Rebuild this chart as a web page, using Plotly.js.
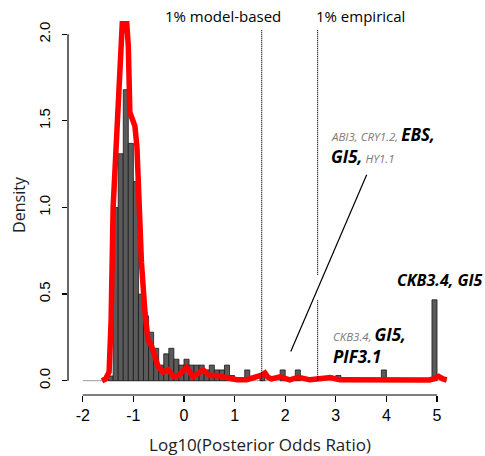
<!DOCTYPE html>
<html>
<head>
<meta charset="utf-8">
<script src="https://cdn.plot.ly/plotly-3.0.1.min.js"></script>
<style>html,body{margin:0;padding:0;background:#fff;}#chart{width:485px;height:456px;}</style>
</head>
<body>
<div id="chart"></div>
<script>
// Histogram bins (left edges, width 0.1) and densities
const binStarts = [-1.5,-1.4,-1.3,-1.2,-1.1,-1.0,-0.9,-0.8,-0.7,-0.6,-0.5,-0.4,-0.3,-0.2,-0.1,0.0,0.1,0.2,0.3,0.4,0.5,0.6,0.7,0.8,0.9,1.2,1.5,1.9,2.2,3.0,3.9,4.9];
const densities = [0.027,1.0,1.31,1.68,1.37,1.15,0.5,0.374,0.28,0.187,0.09,0.155,0.187,0.124,0.09,0.124,0.09,0.09,0.09,0.062,0.09,0.062,0.062,0.09,0.03,0.062,0.03,0.062,0.062,0.03,0.062,0.467];
const binWidth = 0.1;

// Kernel density curve
const kdeX = [-1.62,-1.55,-1.48,-1.44,-1.40,-1.36,-1.30,-1.25,-1.22,-1.13,-1.10,-1.07,-1.02,-0.97,-0.93,-0.90,-0.84,-0.77,-0.71,-0.64,-0.57,-0.51,-0.41,-0.31,-0.21,-0.11,0.05,0.18,0.38,0.51,0.64,0.78,0.90,1.04,1.24,1.44,1.52,1.60,1.66,1.73,1.90,2.09,2.26,2.49,2.69,2.89,3.08,3.5,4.0,4.5,4.85,4.93,5.03,5.12,5.19];
const kdeY = [0.0,0.01,0.05,0.35,1.0,1.25,1.62,1.95,2.06,2.06,1.93,1.55,1.51,1.47,1.35,1.10,0.68,0.39,0.235,0.20,0.12,0.08,0.05,0.062,0.025,0.03,0.077,0.023,0.062,0.03,0.03,0.02,0.018,0.006,0.006,0.02,0.03,0.045,0.02,0.01,0.022,0.005,0.02,0.005,0.015,0.018,0.005,0.004,0.004,0.004,0.004,0.01,0.025,0.01,0.004];

// Thresholds
const thresholdX = [1.535, 2.64];
const thresholdLabels = ["1% model-based", "1% empirical"];

// Axis ticks
const xTicks = [-2,-1,0,1,2,3,4,5];
const yTicks = [0,0.5,1.0,1.5,2.0];
const yTickText = ["0.0","0.5","1.0","1.5","2.0"];

const binCenters = binStarts.map(b => +(b + binWidth/2).toFixed(3));

const traces = [
  {
    type: 'bar', x: binCenters, y: densities, width: binWidth,
    marker: {color: '#5a5a5a', line: {color: '#1a1a1a', width: 0.8}},
    hoverinfo: 'skip', showlegend: false
  },
  {
    type: 'scatter', mode: 'lines', x: kdeX, y: kdeY,
    line: {color: '#ff0000', width: 5.5},
    hoverinfo: 'skip', showlegend: false
  }
];

const dotLine = {color:'#000', width:1.2, dash:'1px,1px'};
const shapes = [
  // gray baseline
  {type:'line', xref:'x', yref:'y', x0:-2, x1:5.2, y0:0, y1:0, line:{color:'#9a9a9a', width:1}, layer:'below'},
  // detached axis lines
  {type:'line', xref:'paper', yref:'y', x0:0, x1:0, y0:0, y1:2.0, line:{color:'#000', width:1.2}},
  {type:'line', xref:'x', yref:'paper', x0:-2, x1:5, y0:0, y1:0, line:{color:'#000', width:1.2}},
  // threshold dotted lines
  {type:'line', xref:'x', yref:'y', x0:thresholdX[0], x1:thresholdX[0], y0:0, y1:2.025, line:dotLine},
  {type:'line', xref:'x', yref:'y', x0:thresholdX[1], x1:thresholdX[1], y0:0.611, y1:2.025, line:dotLine},
  {type:'line', xref:'x', yref:'y', x0:thresholdX[1], x1:thresholdX[1], y0:0, y1:0.466, line:dotLine},
  // pointer line
  {type:'line', xref:'x', yref:'y', x0:2.11, y0:0.168, x1:3.61, y1:1.189, line:{color:'#000', width:1.2}}
];

const gray = 'style="font-size:11.5px;color:#7a7a7a;font-weight:normal"';
const annFont = {family:'Open Sans, sans-serif', size:17, color:'#000', style:'italic'};
const topFont = {family:'Open Sans, sans-serif', size:15, color:'#000'};
const annotations = [
  {xref:'x', yref:'paper', x:0.765, y:1.0, yshift:-1, text:thresholdLabels[0], showarrow:false, xanchor:'center', yanchor:'middle', font:topFont},
  {xref:'x', yref:'paper', x:3.48, y:1.0, yshift:-1, text:thresholdLabels[1], showarrow:false, xanchor:'center', yanchor:'middle', font:topFont},
  {xref:'x', yref:'y', x:2.87, y:1.42, text:'<span '+gray+'>ABI3, CRY1.2, </span><b>EBS,</b>', showarrow:false, xanchor:'left', yanchor:'middle', font:annFont},
  {xref:'x', yref:'y', x:2.87, y:1.293, text:'<b>GI5,</b><span '+gray+'> HY1.1</span>', showarrow:false, xanchor:'left', yanchor:'middle', font:annFont},
  {xref:'x', yref:'y', x:2.90, y:0.264, text:'<span '+gray+'>CKB3.4, </span><b>GI5,</b>', showarrow:false, xanchor:'left', yanchor:'middle', font:annFont},
  {xref:'x', yref:'y', x:2.90, y:0.139, text:'<b>PIF3.1</b>', showarrow:false, xanchor:'left', yanchor:'middle', font:annFont},
  {xref:'x', yref:'y', x:4.16, y:0.582, text:'<b>CKB3.4, GI5</b>', showarrow:false, xanchor:'left', yanchor:'middle', font:{family:'Open Sans, sans-serif', size:16, color:'#000', style:'italic'}}
];

const layout = {
  width: 485, height: 456,
  margin: {l:68, r:33, t:15, b:61, pad:0},
  paper_bgcolor:'#fff', plot_bgcolor:'#fff',
  bargap: 0,
  xaxis: {
    range:[-2.292, 5.296], showgrid:false, zeroline:false, showline:false,
    tickmode:'array', tickvals:xTicks, ticktext:xTicks.map(String),
    ticks:'outside', ticklen:6, tickwidth:1.2, tickcolor:'#000',
    tickfont:{family:'Liberation Sans, Arial, sans-serif', size:16, color:'#000'},
    title:{text:'Log10(Posterior Odds Ratio)', font:{family:'Open Sans, sans-serif', size:17, color:'#222'}, standoff:19},
    automargin:false, fixedrange:true
  },
  yaxis: {
    range:[-0.0826, 2.111], showgrid:false, zeroline:false, showline:false,
    tickmode:'array', tickvals:yTicks, ticktext:yTickText, tickangle:-90,
    ticks:'outside', ticklen:5, tickwidth:1.2, tickcolor:'#000', ticklabelstandoff:6,
    tickfont:{family:'Liberation Sans, Arial, sans-serif', size:15, color:'#000'},
    title:{text:'Density', font:{family:'Open Sans, sans-serif', size:16, color:'#222'}, standoff:6},
    automargin:false, fixedrange:true
  },
  shapes: shapes,
  annotations: annotations,
  showlegend:false
};

Plotly.newPlot('chart', traces, layout, {displayModeBar:false, staticPlot:true});
</script>
</body>
</html>
